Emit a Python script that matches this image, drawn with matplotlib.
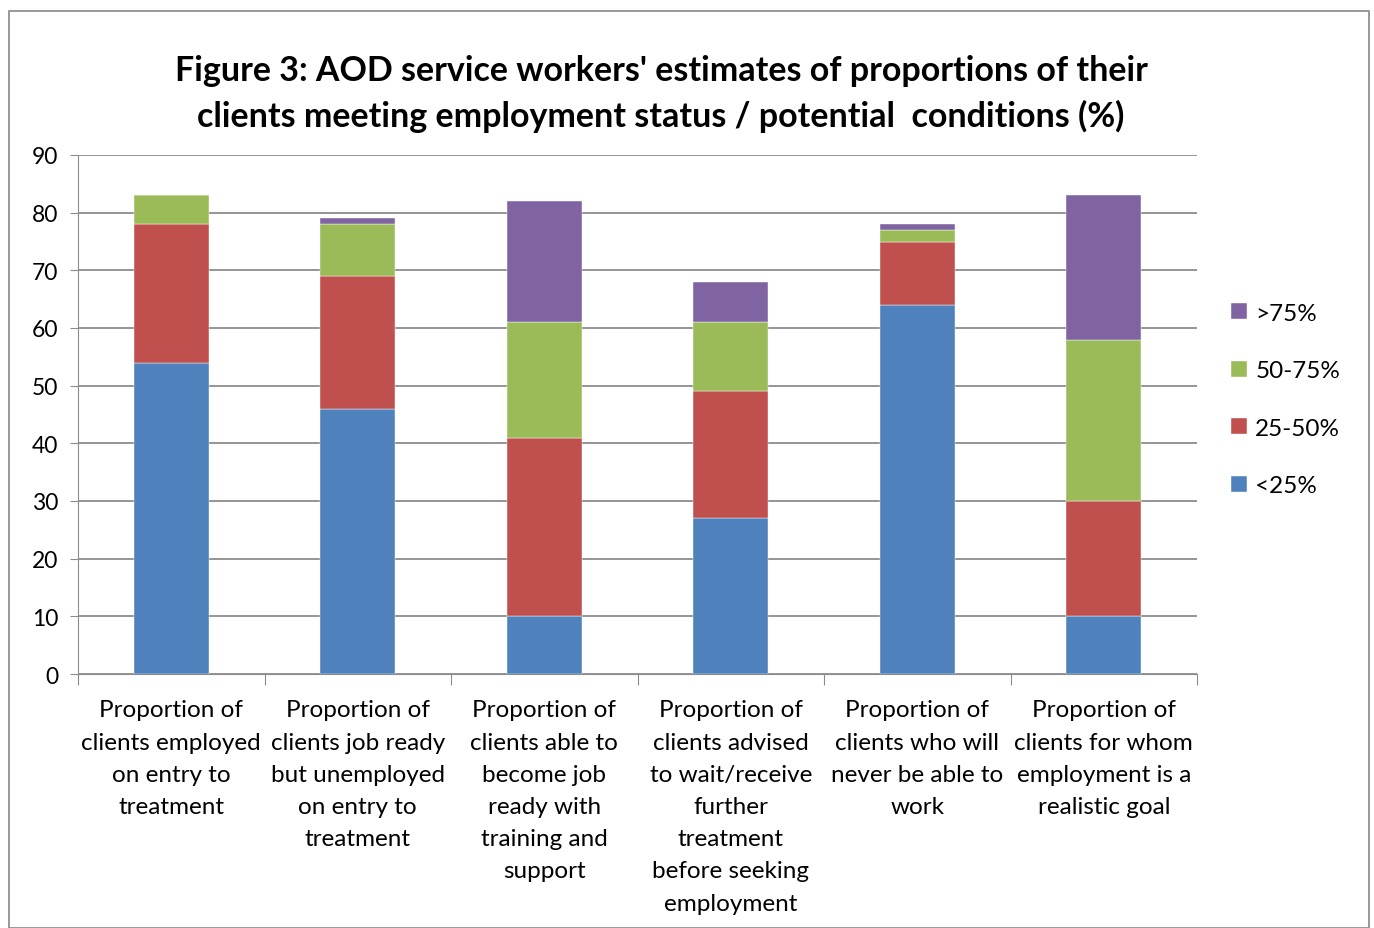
import matplotlib
matplotlib.use("Agg")
import matplotlib.pyplot as plt
from matplotlib.patches import Rectangle
import numpy as np

plt.rcParams['font.family'] = ['Lato', 'DejaVu Sans']

categories = [
    "Proportion of\nclients employed\non entry to\ntreatment",
    "Proportion of\nclients job ready\nbut unemployed\non entry to\ntreatment",
    "Proportion of\nclients able to\nbecome job\nready with\ntraining and\nsupport",
    "Proportion of\nclients advised\nto wait/receive\nfurther\ntreatment\nbefore seeking\nemployment",
    "Proportion of\nclients who will\nnever be able to\nwork",
    "Proportion of\nclients for whom\nemployment is a\nrealistic goal",
]
series_names = ["<25%", "25-50%", "50-75%", ">75%"]
lt25 = [54, 46, 10, 27, 64, 10]
p25_50 = [24, 23, 31, 22, 11, 20]
p50_75 = [5, 9, 20, 12, 2, 28]
gt75 = [0, 1, 21, 7, 1, 25]
colors = ["#4F81BD", "#C0504D", "#9BBB59", "#8064A2"]
yticks = list(range(0, 91, 10))

W, H = 1374, 929
fig = plt.figure(figsize=(W / 100, H / 100), dpi=100)
fig.patches.append(Rectangle((9 / W, 0), (1369 - 9) / W, (929 - 12) / H,
                             transform=fig.transFigure, fill=False,
                             edgecolor="#888888", linewidth=1.2))
ax = fig.add_axes([78 / W, 1 - 675 / H, (1197 - 78) / W, (675 - 156) / H])

x = np.arange(len(categories))
bottom = np.zeros(len(categories))
handles = []
for name, vals, c in zip(series_names, [lt25, p25_50, p50_75, gt75], colors):
    b = ax.bar(x, vals, width=0.40, bottom=bottom, color=c, label=name,
               edgecolor="white", linewidth=0.3, zorder=3)
    handles.append(b)
    bottom += np.array(vals)

ax.set_xlim(-0.5, len(categories) - 0.5)
ax.set_ylim(0, 90)
ax.set_yticks(yticks)
ax.yaxis.grid(True, color="#8c8c8c", linewidth=1.3, zorder=0)
ax.set_axisbelow(True)
for s in ["top", "right"]:
    ax.spines[s].set_visible(False)
ax.spines["left"].set_color("#8c8c8c")
ax.spines["bottom"].set_color("#8c8c8c")
ax.tick_params(axis="y", length=6, color="#8c8c8c", labelsize=16.5, pad=8)
ax.set_xticks(np.arange(-0.5, len(categories), 1.0))
ax.set_xticklabels([])
ax.tick_params(axis="x", length=8, color="#8c8c8c")
for i, lab in enumerate(categories):
    ax.text(i, -4.4, lab, ha="center", va="top", fontsize=17.5,
            linespacing=1.66, transform=ax.transData)

fig.text(661 / W, 1 - 94 / H,
         "Figure 3: AOD service workers' estimates of proportions of their\n"
         "clients meeting employment status / potential  conditions (%)",
         ha="center", va="center", fontsize=24.5, fontweight="bold", linespacing=1.49)

leg = fig.legend(handles[::-1], series_names[::-1], loc="upper left",
                 bbox_to_anchor=(1209 / W, 1 - 282 / H), frameon=False,
                 fontsize=17.5, labelspacing=1.5, handlelength=0.65,
                 handleheight=0.65, handletextpad=0.35)

fig.savefig("out.png", dpi=100)
